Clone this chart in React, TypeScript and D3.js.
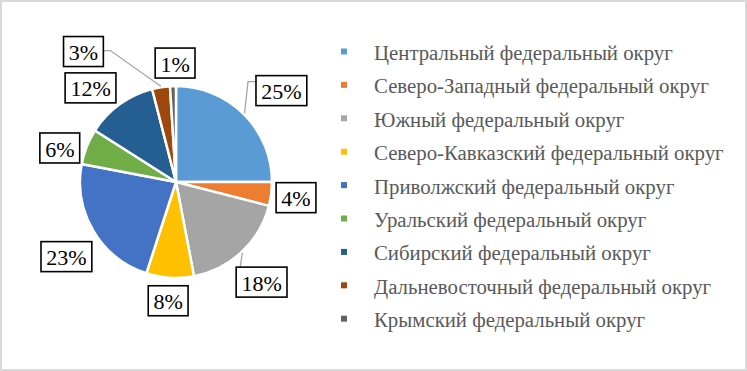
import React, { useEffect, useRef } from 'react';
import * as d3 from 'd3';

const districts = [
  'Центральный федеральный округ',
  'Северо-Западный федеральный округ',
  'Южный федеральный округ',
  'Северо-Кавказский федеральный округ',
  'Приволжский федеральный округ',
  'Уральский федеральный округ',
  'Сибирский федеральный округ',
  'Дальневосточный федеральный округ',
  'Крымский федеральный округ',
];
const shares = [25, 4, 18, 8, 23, 6, 12, 3, 1];
const colors = ['#5B9BD5', '#ED7D31', '#A5A5A5', '#FFC000', '#4472C4', '#70AD47', '#255E91', '#9E480E', '#636363'];

// label nudges (px) from the default spot on the mid-angle
const labelNudge: [number, number][] = [
  [17, -3], [-4, 0], [0, 9], [0, -6], [-2, 11], [0, 12], [-12, 7], [-73, -7], [3, 6],
];
// which labels get a leader line
const withLeader = [true, false, true, false, false, false, false, true, false];

const W = 747;
const H = 371;
const SERIF = '"Liberation Serif", "Times New Roman", serif';

export default function App() {
  const ref = useRef<SVGSVGElement>(null);

  useEffect(() => {
    const svg = d3.select(ref.current);
    svg.selectAll('*').remove();

    svg.append('rect')
      .attr('x', 1).attr('y', 1)
      .attr('width', W - 2).attr('height', H - 2)
      .attr('fill', '#fff')
      .attr('stroke', '#d9d9d9')
      .attr('stroke-width', 2);

    const cx = 176, cy = 182, r = 96;
    const pie = d3.pie<number>().sort(null).value((d) => d);
    const arcs = pie(shares);
    const arc = d3.arc<d3.PieArcDatum<number>>().innerRadius(0).outerRadius(r);

    const g = svg.append('g').attr('transform', `translate(${cx},${cy})`);
    g.selectAll('path.slice')
      .data(arcs)
      .join('path')
      .attr('class', 'slice')
      .attr('d', arc)
      .attr('fill', (_, i) => colors[i])
      .attr('stroke', '#fff')
      .attr('stroke-width', 2.5)
      .attr('stroke-linejoin', 'round');

    // labels
    const labelR = 125;
    const lg = g.append('g');
    arcs.forEach((a, i) => {
      const mid = (a.startAngle + a.endAngle) / 2;
      const lx = Math.sin(mid) * labelR + labelNudge[i][0];
      const ly = -Math.cos(mid) * labelR + labelNudge[i][1];
      const t = lg.append('text')
        .attr('x', lx).attr('y', ly + 1)
        .attr('text-anchor', 'middle')
        .attr('dominant-baseline', 'central')
        .attr('font-family', SERIF)
        .attr('font-size', 22)
        .attr('fill', '#000')
        .text(`${shares[i]}%`);
      const tw = (t.node() as SVGTextElement).getComputedTextLength();
      const bw = tw + 10.5, bh = 30;
      const bx = lx - bw / 2, by = ly - bh / 2;

      if (withLeader[i]) {
        const ex = Math.sin(mid) * (r + 1);
        const ey = -Math.cos(mid) * (r + 1);
        let pts: [number, number][];
        if (lx > ex && ly < ey && bx > ex + 4) {
          // label up-right: elbow at left of the box
          pts = [[ex, ey], [bx - 8, by + 6], [bx, by + 6]];
        } else if (lx < ex && bx + bw < ex) {
          // label to the left: elbow at right of the box
          pts = [[ex, ey], [bx + bw + 7, ly - 1], [bx + bw, ly - 1]];
        } else {
          pts = [[ex, ey], [bx + 4, by]];
        }
        lg.insert('path', 'text')
          .attr('d', d3.line()(pts))
          .attr('fill', 'none')
          .attr('stroke', '#a6a6a6')
          .attr('stroke-width', 1.3);
      }

      lg.insert('rect', 'text')
        .attr('x', bx).attr('y', by)
        .attr('width', bw).attr('height', bh)
        .attr('fill', '#fff')
        .attr('stroke', '#000')
        .attr('stroke-width', 1.6);
    });

    // legend
    const ly0 = 51.5, step = 33.4;
    const leg = svg.append('g');
    districts.forEach((name, i) => {
      const y = ly0 + i * step;
      leg.append('rect')
        .attr('x', 341).attr('y', y - 3)
        .attr('width', 6).attr('height', 6)
        .attr('fill', colors[i]);
      leg.append('text')
        .attr('x', 374).attr('y', y + 1)
        .attr('dominant-baseline', 'central')
        .attr('font-family', SERIF)
        .attr('font-size', 20.8)
        .attr('fill', '#595959')
        .text(name);
    });
  }, []);

  return (
    <svg
      ref={ref}
      width={W}
      height={H}
      style={{ position: 'absolute', left: 0, top: 0 }}
    />
  );
}
